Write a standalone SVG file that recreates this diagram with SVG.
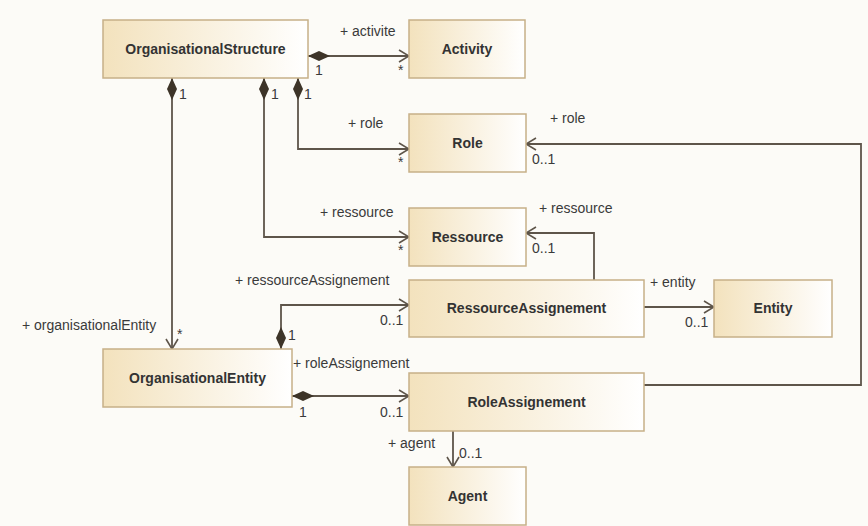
<svg xmlns="http://www.w3.org/2000/svg" width="868" height="526" viewBox="0 0 868 526">
<defs>
<linearGradient id="g" x1="0" y1="0" x2="1" y2="0">
<stop offset="0" stop-color="#f3e2bd"/>
<stop offset="1" stop-color="#ffffff"/>
</linearGradient>
<marker id="arr" viewBox="0 0 12 14" refX="11" refY="7" markerWidth="12" markerHeight="14" orient="auto" markerUnits="userSpaceOnUse">
<path d="M1,1 L11,7 L1,13" fill="none" stroke="#5e554a" stroke-width="1.6"/>
</marker>
<marker id="dia" viewBox="0 0 22 10" refX="0" refY="5" markerWidth="22" markerHeight="10" orient="auto" markerUnits="userSpaceOnUse">
<path d="M0,5 L11,0 L22,5 L11,10 Z" fill="#3d3428"/>
</marker>
</defs>
<style>
.box{fill:url(#g);stroke:#c6b088;stroke-width:1.5}
.cn{font-family:"Liberation Sans",Arial,sans-serif;font-weight:bold;font-size:14px;fill:#333;text-anchor:middle}
.lb{font-family:"Liberation Sans",Arial,sans-serif;font-size:14px;fill:#3a3a3a}
.ln{fill:none;stroke:#5e554a;stroke-width:1.8}
.a{marker-end:url(#arr)}
.d{marker-start:url(#dia)}
</style>
<rect width="868" height="526" fill="#fcfbf7"/>
<g id="connectors">
<path class="ln d a" d="M308,56 L409,56"/>
<path class="ln d a" d="M172,78 L172,349"/>
<path class="ln d a" d="M264,78 L264,237 L409,237"/>
<path class="ln d a" d="M298,78 L298,149 L409,149"/>
<path class="ln d a" d="M281,349 L281,305 L409,305"/>
<path class="ln d a" d="M292,396 L409,396"/>
<path class="ln a" d="M644,307 L714,307"/>
<path class="ln a" d="M594,280 L594,233 L526,233"/>
<path class="ln a" d="M644,385 L861,385 L861,144 L526,144"/>
<path class="ln a" d="M453,431 L453,467"/>
<text class="lb" x="340" y="36">+ activite</text>
<text class="lb" x="315" y="75">1</text>
<text class="lb" x="398" y="75">*</text>
<text class="lb" x="179" y="99">1</text>
<text class="lb" x="271" y="99">1</text>
<text class="lb" x="304" y="99">1</text>
<text class="lb" x="348" y="128">+ role</text>
<text class="lb" x="398" y="167">*</text>
<text class="lb" x="320" y="217">+ ressource</text>
<text class="lb" x="398" y="255">*</text>
<text class="lb" x="550" y="123">+ role</text>
<text class="lb" x="532" y="164">0..1</text>
<text class="lb" x="539" y="213">+ ressource</text>
<text class="lb" x="532" y="253">0..1</text>
<text class="lb" x="650" y="287">+ entity</text>
<text class="lb" x="685" y="327">0..1</text>
<text class="lb" x="235" y="285">+ ressourceAssignement</text>
<text class="lb" x="380" y="325">0..1</text>
<text class="lb" x="288" y="340">1</text>
<text class="lb" x="22" y="330">+ organisationalEntity</text>
<text class="lb" x="177" y="339">*</text>
<text class="lb" x="293" y="368">+ roleAssignement</text>
<text class="lb" x="299" y="417">1</text>
<text class="lb" x="380" y="417">0..1</text>
<text class="lb" x="388" y="448">+ agent</text>
<text class="lb" x="459" y="458">0..1</text>
</g>
<g id="OrganisationalStructure"><rect class="box" x="103" y="20" width="205" height="58"/><text class="cn" x="205.5" y="54">OrganisationalStructure</text></g>
<g id="Activity"><rect class="box" x="409" y="20" width="116" height="58"/><text class="cn" x="467" y="54">Activity</text></g>
<g id="Role"><rect class="box" x="409" y="114" width="117" height="58"/><text class="cn" x="467.5" y="148">Role</text></g>
<g id="Ressource"><rect class="box" x="409" y="208" width="117" height="58"/><text class="cn" x="467.5" y="242">Ressource</text></g>
<g id="RessourceAssignement"><rect class="box" x="409" y="280" width="235" height="57"/><text class="cn" x="526.5" y="313">RessourceAssignement</text></g>
<g id="Entity"><rect class="box" x="714" y="280" width="118" height="57"/><text class="cn" x="773" y="313">Entity</text></g>
<g id="OrganisationalEntity"><rect class="box" x="103" y="349" width="189" height="58"/><text class="cn" x="197.5" y="383">OrganisationalEntity</text></g>
<g id="RoleAssignement"><rect class="box" x="409" y="373" width="235" height="58"/><text class="cn" x="526.5" y="407">RoleAssignement</text></g>
<g id="Agent"><rect class="box" x="409" y="467" width="117" height="58"/><text class="cn" x="467.5" y="501">Agent</text></g>
</svg>
